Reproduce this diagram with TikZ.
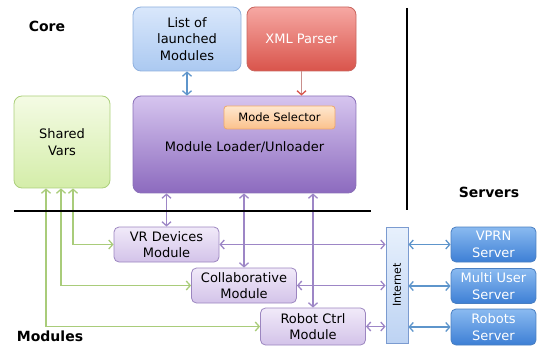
\documentclass[tikz,border=0pt]{standalone}
\usepackage{fontspec}
\setmainfont{DejaVu Sans}
\usetikzlibrary{positioning, arrows.meta}

\definecolor{listtop}{HTML}{D9E7FB}
\definecolor{listbot}{HTML}{ABC9F1}
\definecolor{listline}{HTML}{8FB0DE}
\definecolor{xmltop}{HTML}{F6A8A3}
\definecolor{xmlbot}{HTML}{D9544B}
\definecolor{xmlline}{HTML}{C9665F}
\definecolor{loadtop}{HTML}{D6C5EF}
\definecolor{loadbot}{HTML}{8C6ABE}
\definecolor{loadline}{HTML}{8A70B8}
\definecolor{modetop}{HTML}{FEE7CE}
\definecolor{modebot}{HTML}{FBC18C}
\definecolor{modeline}{HTML}{F0A868}
\definecolor{sharedtop}{HTML}{F4FBE4}
\definecolor{sharedbot}{HTML}{D4EDA9}
\definecolor{sharedline}{HTML}{ACD07C}
\definecolor{modtop}{HTML}{F1EAF9}
\definecolor{modbot}{HTML}{D3C3E9}
\definecolor{modline}{HTML}{9C86C0}
\definecolor{nettop}{HTML}{E7F0FC}
\definecolor{netbot}{HTML}{BDD3F3}
\definecolor{netline}{HTML}{7B9BD0}
\definecolor{srvtop}{HTML}{8ABAF0}
\definecolor{srvbot}{HTML}{3D7FD5}
\definecolor{srvline}{HTML}{4A7FC2}
\definecolor{arrblue}{HTML}{5E95CB}
\definecolor{arrred}{HTML}{C98F8C}
\definecolor{arrpurple}{HTML}{9D86C6}
\definecolor{arrgreen}{HTML}{A9CC7A}

\tikzset{
block/.style={
  draw,
  rectangle,
  rounded corners=8pt,
  line width=0.8pt,
  minimum height=64pt,
  minimum width=108pt, align=center,
  font=\fontsize{13}{16.5}\selectfont
  },
module/.style={
  block,
  rounded corners=5pt,
  minimum height=35pt,
  minimum width=105pt,
  draw=modline, top color=modtop, bottom color=modbot
  },
server/.style={
  block,
  rounded corners=5pt,
  minimum height=35pt,
  minimum width=85pt,
  text=white,
  draw=srvline, top color=srvtop, bottom color=srvbot
  },
title/.style={font=\fontsize{14}{16}\selectfont\bfseries},
line/.style={line width=1.3pt, {Straight Barb[length=4pt,width=9pt]}-{Straight Barb[length=4pt,width=9pt]}},
oneway/.style={line width=1.3pt, -{Straight Barb[length=4pt,width=9pt,color=xmlbot]}}
}

\begin{document}
\begin{tikzpicture}[x=1pt, y=-1pt]
\useasboundingbox (0,0) rectangle (537,347);

% core
\node[title]	(core)		at (47,26)		{Core};
\node[block, draw=listline, top color=listtop, bottom color=listbot]	(list)	at (187,39)	{List of \\ launched \\ Modules};
\node[block, draw=xmlline, top color=xmltop, bottom color=xmlbot, text=white, minimum width=109pt]	(xml)	at (301.5,39)	{XML Parser};
\node[block, draw=loadline, top color=loadtop, bottom color=loadbot, minimum width=223pt, minimum height=97pt]	(loader)	at (244.5,144.5)	{\\[-2pt] Module Loader/Unloader};
\node[block, rounded corners=3pt, draw=modeline, top color=modetop, bottom color=modebot, minimum width=111pt, minimum height=23pt, font=\fontsize{11.5}{13}\selectfont]	(mode)	at (279.5,117.5)	{Mode Selector};
\node[block, draw=sharedline, top color=sharedtop, bottom color=sharedbot, minimum width=96pt, minimum height=92pt]	(shared)	at (62,142)	{Shared \\ Vars};

% modules and servers
\node[title]	(servers)	at (489,192)	{Servers};
\node[title]	(modules)	at (50,336)		{Modules};
\node[module]	(vr)			at (166.5,244.5)	{VR Devices \\ Module};
\node[module]	(collab)		at (244,285.5)	{Collaborative \\ Module};
\node[module, minimum height=37pt]	(robot)	at (313,326.5)	{Robot Ctrl \\ Module};
\node[block, rounded corners=0pt, draw=netline, top color=nettop, bottom color=netbot, minimum width=22pt, minimum height=116pt]	(inet)	at (397,285)	{};
\node[rotate=90, font=\fontsize{11}{13}\selectfont]	(inettext)	at (inet.center)	{Internet};
\node[server]	(vprn)		at (493.5,244.5)	{VPRN \\ Server};
\node[server]	(multi)		at (493.5,286)	{Multi User \\ Server};
\node[server, minimum height=36pt]	(robots)	at (493.5,327)	{Robots \\ Server};

% core connectors
\draw[line, arrblue]	(list.south)	--	(list.south |- loader.north);
\draw[oneway, arrred]	(xml.south)		--	(xml.south |- loader.north);

% loader to modules
\draw[line, arrpurple]	(loader.south -| vr.north)		--	(vr.north);
\draw[line, arrpurple]	(loader.south -| collab.north)	--	(collab.north);
\draw[line, arrpurple]	(loader.south -| robot.north)	--	(robot.north);

% modules to internet
\draw[line, arrpurple]	(vr.east)		--	(vr.east -| inet.west);
\draw[line, arrpurple]	(collab.east)	--	(collab.east -| inet.west);
\draw[line, arrpurple]	(robot.east)	--	(robot.east -| inet.west);

% internet to servers
\draw[line, arrblue]	(inet.east |- vprn.west)	--	(vprn.west);
\draw[line, arrblue]	(inet.east |- multi.west)	--	(multi.west);
\draw[line, arrblue]	(inet.east |- robots.west)	--	(robots.west);

% shared vars
\draw[line, arrgreen]	([xshift=11pt]shared.south)	|-	(vr.west);
\draw[line, arrgreen]	([xshift=-1pt]shared.south)	|-	(collab.west);
\draw[line, arrgreen]	([xshift=-16pt]shared.south)	|-	(robot.west);

% separators
\draw[line width=1.5pt]	(14,211) -- (371,211);
\draw[line width=1.5pt]	(407,8) -- (407,210);
\end{tikzpicture}
\end{document}
